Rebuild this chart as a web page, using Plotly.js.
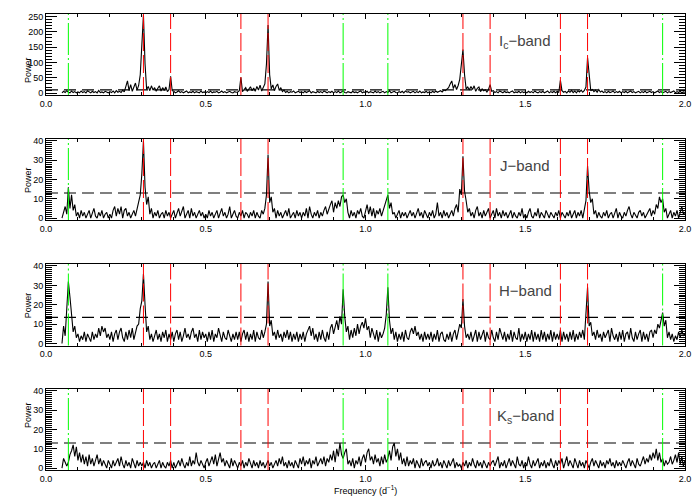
<!DOCTYPE html>
<html>
<head>
<meta charset="utf-8">
<script src="https://cdn.plot.ly/plotly-3.0.1.min.js"></script>
<style>
  html, body { margin: 0; padding: 0; background: #fff; }
  #chart { width: 700px; height: 500px; }
</style>
</head>
<body>
<div id="chart"></div>
<script>
// Periodogram grid, frequency in d^-1
const FREQ_START = 0.05;
const FREQ_STEP = 0.005;
const N_FREQ = 391;

// Power values, one row per 0.1 d^-1
const powerIc = [
    1, 6, 2, 8, 3, 1, 7, 2, 5, 1,
    4, 1, 7, 2, 5, 1, 8, 3, 1, 6, 2, 5, 1, 9, 2, 4, 1, 6, 3, 1,
    5, 2, 7, 1, 8, 3, 6, 2, 10, 4, 22, 40, 8, 28, 6, 20, 33, 10, 25, 60,
    180, 255, 95, 12, 22, 8, 24, 10, 18, 6, 16, 24, 7, 18, 9, 20, 5, 12, 55, 8,
    6, 1, 4, 8, 2, 5, 1, 3, 7, 1, 4, 2, 6, 1, 5, 3, 1, 7, 2, 4,
    1, 5, 2, 7, 1, 4, 3, 6, 1, 3, 7, 2, 5, 1, 4, 6, 2, 1, 5, 3,
    4, 8, 52, 5, 12, 18, 6, 16, 21, 8, 17, 6, 22, 10, 26, 7, 19, 30, 95, 222,
    60, 14, 27, 8, 22, 30, 9, 18, 5, 10, 2, 6, 1, 5, 3, 7, 1, 4, 6, 2,
    5, 1, 6, 2, 4, 8, 1, 5, 3, 1, 6, 2, 5, 1, 7, 3, 1, 5, 2, 6,
    1, 5, 2, 7, 1, 4, 8, 2, 1, 5, 3, 1, 6, 2, 4, 1, 5, 7, 1, 4,
    2, 6, 1, 5, 3, 1, 7, 2, 5, 1, 4, 6, 1, 5, 2, 8, 1, 3, 6, 2,
    1, 5, 2, 6, 1, 7, 3, 5, 1, 4, 6, 1, 5, 2, 7, 1, 4, 2, 6, 1,
    5, 1, 6, 2, 7, 3, 5, 8, 4, 10, 8, 14, 18, 30, 40, 15, 28, 12, 25, 45,
    95, 142, 60, 14, 20, 10, 22, 12, 24, 6, 16, 20, 5, 14, 8, 11, 4, 12, 28, 6,
    8, 2, 5, 1, 7, 3, 1, 6, 2, 4, 1, 5, 7, 1, 4, 2, 6, 1, 5, 2,
    4, 1, 6, 2, 5, 1, 7, 3, 1, 5, 2, 6, 1, 4, 7, 1, 5, 2, 6, 1,
    6, 2, 42, 8, 3, 6, 1, 7, 3, 9, 2, 7, 1, 8, 4, 10, 3, 9, 20, 116,
    70, 8, 12, 5, 10, 3, 12, 4, 7, 2, 5, 1, 6, 2, 4, 7, 1, 5, 2, 6,
    1, 5, 2, 6, 1, 4, 7, 2, 5, 1, 3, 6, 1, 5, 2, 7, 1, 4, 6, 2,
    5, 1, 4, 7, 2, 5, 1, 3, 6, 1, 5, 2, 4, 7, 1, 5, 2, 6, 1, 4,
    3
];

const powerJ = [
    0, 3, 6, 2, 16, 5, 12, 4, 7, 1,
    3, 0, 4, 1, 3, 0, 2, 4, 0, 3, 5, 1, 0, 3, 1, 4, 0, 2, 3, 0,
    2, 0, 4, 6, 1, 5, 2, 6, 0, 4, 5, 1, 3, 0, 2, 4, 1, 5, 8, 12,
    23, 40, 16, 7, 11, 2, 5, 0, 3, 1, 4, 0, 2, 3, 0, 4, 1, 3, 0, 2,
    4, 0, 3, 5, 1, 3, 6, 0, 2, 4, 0, 5, 1, 3, 0, 2, 4, 1, 3, 0,
    2, 0, 4, 1, 3, 0, 2, 4, 0, 3, 5, 1, 3, 0, 2, 6, 0, 2, 4, 1,
    0, 3, 1, 4, 0, 3, 2, 0, 3, 1, 4, 0, 3, 1, 0, 4, 2, 5, 12, 33,
    8, 11, 3, 5, 0, 4, 1, 3, 0, 2, 4, 1, 5, 0, 2, 3, 0, 4, 1, 3,
    0, 3, 1, 5, 0, 6, 2, 0, 3, 1, 4, 0, 3, 1, 4, 6, 2, 4, 7, 9,
    3, 8, 5, 9, 6, 11, 12, 8, 10, 3, 0, 4, 1, 3, 0, 4, 2, 5, 1, 0,
    3, 7, 2, 6, 1, 5, 0, 4, 2, 5, 1, 4, 6, 9, 12, 5, 8, 2, 3, 0,
    2, 4, 0, 3, 1, 3, 0, 2, 4, 1, 3, 0, 2, 5, 1, 3, 0, 4, 2, 0,
    3, 1, 4, 0, 2, 8, 1, 3, 0, 4, 1, 3, 0, 2, 4, 1, 5, 7, 3, 15,
    12, 32, 14, 9, 3, 5, 1, 3, 0, 4, 6, 1, 3, 0, 4, 1, 3, 5, 0, 2,
    4, 0, 5, 1, 3, 0, 4, 1, 3, 0, 2, 4, 0, 3, 1, 0, 3, 1, 5, 0,
    2, 0, 3, 5, 1, 0, 3, 1, 5, 0, 3, 1, 0, 4, 2, 0, 3, 1, 0, 3,
    1, 4, 0, 3, 1, 0, 3, 1, 4, 0, 2, 4, 0, 3, 1, 4, 0, 5, 9, 27,
    14, 8, 10, 2, 4, 0, 3, 1, 0, 3, 1, 4, 0, 2, 3, 0, 2, 5, 0, 3,
    1, 0, 3, 1, 4, 6, 2, 0, 3, 1, 0, 3, 4, 1, 3, 0, 2, 4, 5, 1,
    4, 2, 7, 5, 11, 8, 10, 3, 5, 0, 2, 4, 0, 3, 1, 4, 0, 3, 6, 2,
    3
];

const powerH = [
    0, 9, 4, 17, 32, 24, 14, 6, 9, 3,
    5, 1, 4, 2, 6, 1, 5, 3, 1, 6, 2, 5, 3, 8, 4, 9, 6, 8, 3, 5,
    2, 6, 1, 5, 7, 2, 6, 8, 3, 1, 6, 2, 7, 3, 8, 2, 6, 9, 10, 18,
    22, 36, 20, 6, 9, 2, 5, 1, 4, 7, 2, 5, 1, 6, 3, 7, 1, 5, 2, 6,
    1, 5, 7, 2, 6, 1, 4, 8, 3, 5, 2, 6, 8, 3, 5, 1, 7, 2, 6, 3,
    5, 1, 6, 2, 7, 1, 5, 3, 8, 4, 1, 6, 3, 2, 7, 4, 1, 5, 2, 6,
    2, 6, 1, 5, 7, 2, 6, 1, 5, 2, 7, 1, 6, 3, 2, 7, 3, 6, 10, 32,
    9, 12, 4, 6, 2, 7, 3, 5, 1, 6, 3, 7, 2, 6, 1, 5, 2, 6, 1, 5,
    2, 6, 1, 5, 7, 9, 4, 8, 2, 5, 1, 6, 2, 7, 3, 1, 6, 2, 8, 10,
    5, 8, 12, 7, 14, 10, 28, 14, 6, 9, 2, 7, 3, 8, 4, 10, 5, 9, 11, 8,
    13, 7, 9, 3, 8, 5, 2, 7, 1, 6, 3, 5, 8, 15, 29, 12, 5, 8, 2, 6,
    1, 5, 2, 6, 1, 7, 3, 2, 6, 8, 5, 9, 4, 6, 2, 5, 1, 6, 2, 5,
    2, 6, 1, 5, 2, 7, 1, 5, 6, 2, 1, 5, 2, 6, 1, 5, 7, 2, 6, 10,
    8, 23, 9, 3, 5, 2, 6, 1, 4, 7, 1, 6, 2, 5, 7, 1, 6, 3, 2, 7,
    3, 1, 6, 2, 8, 5, 2, 6, 1, 5, 2, 7, 1, 6, 3, 2, 8, 1, 5, 2,
    6, 1, 5, 2, 7, 1, 6, 2, 5, 1, 7, 2, 6, 1, 5, 2, 7, 1, 6, 2,
    5, 2, 7, 1, 6, 2, 5, 1, 6, 2, 7, 1, 5, 2, 6, 3, 7, 2, 13, 29,
    9, 11, 4, 6, 2, 7, 3, 5, 1, 6, 3, 5, 7, 1, 8, 4, 2, 5, 1, 6,
    2, 7, 1, 5, 6, 2, 8, 3, 1, 6, 2, 5, 7, 1, 6, 2, 5, 1, 6, 7,
    3, 7, 5, 10, 8, 12, 16, 9, 12, 3, 6, 2, 5, 1, 4, 2, 6, 3, 7, 4,
    5
];

const powerKs = [
    0, 5, 3, 1, 3, 7, 9, 12, 6, 11,
    4, 8, 3, 7, 2, 6, 1, 7, 2, 5, 1, 4, 7, 2, 5, 1, 4, 2, 0, 4,
    2, 0, 4, 1, 3, 5, 1, 6, 2, 0, 4, 1, 3, 0, 5, 2, 0, 4, 1, 3,
    1, 3, 0, 4, 1, 3, 0, 2, 3, 0, 2, 4, 0, 3, 1, 0, 3, 1, 4, 0,
    3, 0, 2, 4, 1, 5, 2, 0, 3, 1, 6, 1, 4, 2, 8, 3, 1, 4, 2, 0,
    3, 5, 1, 4, 6, 2, 7, 1, 4, 8, 3, 5, 1, 4, 2, 0, 5, 1, 4, 2,
    0, 3, 1, 4, 0, 3, 1, 5, 2, 0, 4, 1, 3, 0, 4, 1, 3, 0, 2, 4,
    1, 3, 0, 2, 4, 1, 5, 2, 6, 1, 3, 0, 4, 1, 3, 0, 4, 2, 0, 5,
    2, 6, 1, 4, 2, 5, 0, 4, 2, 6, 1, 3, 5, 2, 6, 1, 5, 3, 7, 4,
    9, 3, 10, 6, 13, 7, 5, 8, 10, 2, 4, 1, 5, 0, 4, 2, 6, 1, 5, 7,
    3, 8, 10, 4, 6, 2, 7, 3, 5, 1, 6, 2, 7, 3, 5, 9, 4, 11, 13, 6,
    10, 4, 8, 2, 5, 1, 6, 1, 4, 2, 5, 0, 4, 2, 0, 5, 1, 3, 4, 1,
    3, 0, 4, 1, 2, 5, 1, 3, 0, 4, 2, 0, 4, 1, 3, 5, 0, 3, 1, 2,
    0, 3, 1, 4, 0, 3, 1, 5, 2, 0, 4, 1, 3, 0, 4, 2, 0, 3, 1, 3,
    4, 1, 3, 6, 0, 3, 1, 4, 0, 3, 5, 1, 4, 2, 0, 6, 2, 1, 4, 0,
    3, 1, 6, 2, 0, 4, 1, 3, 5, 0, 3, 1, 4, 0, 3, 1, 5, 2, 0, 4,
    1, 4, 2, 5, 0, 3, 6, 1, 4, 2, 0, 5, 2, 0, 4, 1, 3, 0, 4, 2,
    0, 3, 5, 1, 4, 2, 0, 4, 1, 3, 0, 4, 2, 5, 1, 3, 0, 4, 1, 3,
    1, 4, 2, 0, 3, 5, 1, 4, 2, 0, 5, 2, 1, 4, 6, 2, 5, 3, 7, 4,
    8, 5, 10, 4, 8, 3, 5, 1, 4, 2, 3, 6, 2, 4, 7, 3, 8, 2, 6, 1,
    4
];

const bandLabels = ['I<sub>c</sub>\u2212band', 'J\u2212band', 'H\u2212band', 'K<sub>s</sub>\u2212band'];
const thresholds = [11, 13, 13.5, 13];
const redLines = [0.305, 0.39, 0.61, 0.695, 1.305, 1.39, 1.61, 1.695];
const greenLines = [0.07, 0.93, 1.07, 1.93];

const freq = [];
for (let i = 0; i < N_FREQ; i++) freq.push(+(FREQ_START + i * FREQ_STEP).toFixed(3));

const powers = [powerIc, powerJ, powerH, powerKs];

// panel geometry
const domains = [[0.81, 0.972], [0.56, 0.722], [0.309, 0.472], [0.06, 0.222]];
const yRanges = [[-6, 258], [-1, 41], [-1, 41], [-1, 41]];
const yDtick = [50, 10, 10, 10];
const yMinor = [10, 1, 1, 1];

const FONT = 'Liberation Sans, Arial, sans-serif';

const data = [];
const layout = {
    width: 700,
    height: 500,
    margin: { t: 0, b: 0, l: 46, r: 15 },
    paper_bgcolor: '#fff',
    plot_bgcolor: '#fff',
    showlegend: false,
    font: { family: FONT, size: 9, color: '#000' },
    shapes: [],
    annotations: []
};

powers.forEach((p, k) => {
    const sfx = k === 0 ? '' : String(k + 1);
    data.push({
        x: freq,
        y: p,
        xaxis: 'x' + sfx,
        yaxis: 'y' + sfx,
        type: 'scatter',
        mode: 'lines',
        line: { color: '#000', width: 1.1 },
        hoverinfo: 'skip'
    });

    layout['xaxis' + sfx] = {
        domain: [0, 1],
        anchor: 'y' + sfx,
        range: [0, 2],
        dtick: 0.5,
        tick0: 0,
        tickformat: '.1f',
        ticks: 'inside',
        ticklen: 5,
        tickcolor: '#000',
        minor: { dtick: 0.1, ticks: 'inside', ticklen: 3, tickcolor: '#000' },
        showline: true,
        linecolor: '#000',
        linewidth: 1,
        mirror: 'ticks',
        showgrid: false,
        zeroline: false,
        tickfont: { size: 9 }
    };
    layout['yaxis' + sfx] = {
        domain: domains[k],
        anchor: 'x' + sfx,
        range: yRanges[k],
        dtick: yDtick[k],
        tick0: 0,
        ticks: 'inside',
        ticklen: 11,
        tickcolor: '#000',
        minor: { dtick: yMinor[k], ticks: 'inside', ticklen: 6, tickcolor: '#000' },
        showline: true,
        linecolor: '#000',
        linewidth: 1,
        mirror: 'ticks',
        showgrid: false,
        zeroline: false,
        tickfont: { size: 9 }
    };

    // significance level
    layout.shapes.push({
        type: 'line', xref: 'x' + sfx, yref: 'y' + sfx,
        x0: 0, x1: 2, y0: thresholds[k], y1: thresholds[k],
        line: { color: '#000', width: 1.2, dash: '12px,6px' }
    });
    redLines.forEach(f => layout.shapes.push({
        type: 'line', xref: 'x' + sfx, yref: 'y' + sfx + ' domain',
        x0: f, x1: f, y0: 0, y1: 1,
        line: { color: '#ff0000', width: 1, dash: '18px,4px' }
    }));
    greenLines.forEach(f => layout.shapes.push({
        type: 'line', xref: 'x' + sfx, yref: 'y' + sfx + ' domain',
        x0: f, x1: f, y0: 0, y1: 1,
        line: { color: '#00ff00', width: 1, dash: '32px,3px,2px,3px' }
    }));

    layout.annotations.push({
        text: bandLabels[k],
        xref: 'x' + sfx, yref: 'y' + sfx + ' domain',
        x: 1.5, y: 0.8,
        showarrow: false,
        font: { family: FONT, size: 15, color: '#444' }
    });
    layout.annotations.push({
        text: 'Power',
        xref: 'paper', yref: 'paper',
        x: -0.04, y: (domains[k][0] + domains[k][1]) / 2,
        textangle: -90,
        showarrow: false,
        font: { family: FONT, size: 9, color: '#000' }
    });
});

layout.annotations.push({
    text: 'Frequency (d<sup>\u22121</sup>)',
    xref: 'paper', yref: 'paper',
    x: 0.5, y: 0.036,
    yanchor: 'top',
    showarrow: false,
    font: { family: FONT, size: 9, color: '#000' }
});

Plotly.newPlot('chart', data, layout, { displayModeBar: false, staticPlot: true });
</script>
</body>
</html>
